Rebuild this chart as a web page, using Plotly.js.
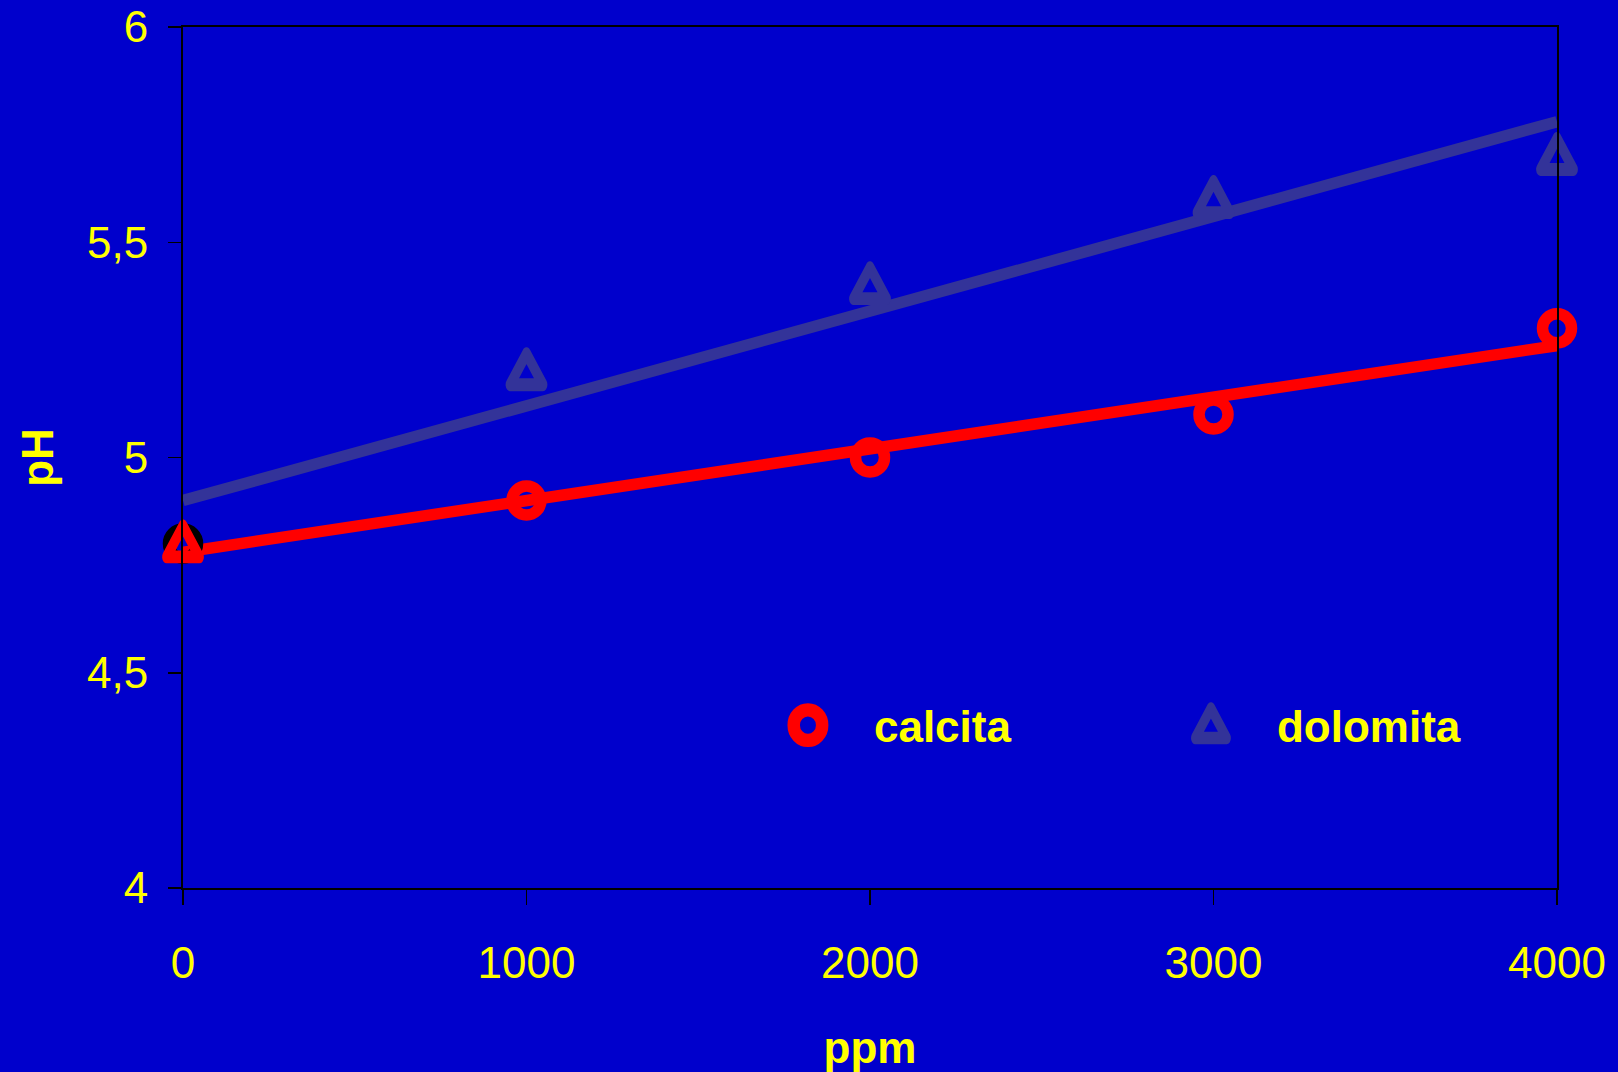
<!DOCTYPE html>
<html>
<head>
<meta charset="utf-8">
<script src="https://cdn.plot.ly/plotly-3.0.1.min.js"></script>
<style>
  html, body { margin: 0; padding: 0; background: #0000CC; }
  #chart { width: 1618px; height: 1072px; }
  .scatterlayer path.point, .legendpoints path { stroke-linejoin: round; }
</style>
</head>
<body>
<div id="chart"></div>
<script>
// ---- data ----
const ppm = [0, 1000, 2000, 3000, 4000];
const calcita = [4.8, 4.9, 5.0, 5.1, 5.3];
const dolomita = [4.8, 5.2, 5.4, 5.6, 5.7];
const seriesNames = ['calcita', 'dolomita'];
const xTickVals = [0, 1000, 2000, 3000, 4000];
const xTickText = ['0', '1000', '2000', '3000', '4000'];
const yTickVals = [4, 4.5, 5, 5.5, 6];
const yTickText = ['4', '4,5', '5', '5,5', '6'];
const xTitle = 'ppm';
const yTitle = 'pH';

// ---- styles ----
const BG = '#0000CC';
const YELLOW = '#FFFF00';
const RED = '#FF0000';
const NAVY = '#333399';
const FONT = 'Arial, "Liberation Sans", Helvetica, sans-serif';
const calcitaPointColors = ['#000000', RED, RED, RED, RED];
const dolomitaPointColors = [RED, NAVY, NAVY, NAVY, NAVY];

// least-squares trend line (Excel linear trendline)
function linearFit(xs, ys) {
  const n = xs.length;
  const mx = xs.reduce((a, b) => a + b, 0) / n;
  const my = ys.reduce((a, b) => a + b, 0) / n;
  let sxy = 0, sxx = 0;
  for (let i = 0; i < n; i++) { sxy += (xs[i] - mx) * (ys[i] - my); sxx += (xs[i] - mx) ** 2; }
  const slope = sxy / sxx;
  const icpt = my - slope * mx;
  const x0 = Math.min(...xs), x1 = Math.max(...xs);
  return { x: [x0, x1], y: [icpt + slope * x0, icpt + slope * x1] };
}
const fitC = linearFit(ppm, calcita);
const fitD = linearFit(ppm, dolomita);

const traces = [
  { type: 'scatter', mode: 'lines', x: fitD.x, y: fitD.y, showlegend: false, hoverinfo: 'skip',
    line: { color: NAVY, width: 11.5 }, cliponaxis: false },
  { type: 'scatter', mode: 'lines', x: fitC.x, y: fitC.y, showlegend: false, hoverinfo: 'skip',
    line: { color: RED, width: 11.5 }, cliponaxis: false },
  { type: 'scatter', mode: 'markers', name: seriesNames[0], x: ppm, y: calcita, showlegend: false,
    marker: { symbol: 'circle-open', size: 29, color: calcitaPointColors, line: { width: 11.5 } }, cliponaxis: false },
  { type: 'scatter', mode: 'markers', name: seriesNames[1], x: ppm, y: dolomita, showlegend: false,
    marker: { symbol: 'triangle-up-open', size: 34, color: dolomitaPointColors, line: { width: 10.5 } }, cliponaxis: false },
  // legend entries
  { type: 'scatter', mode: 'markers', name: seriesNames[0], x: [null], y: [null], showlegend: true,
    marker: { symbol: 'circle-open', size: 29, color: RED, line: { width: 11.5 } } },
  { type: 'scatter', mode: 'markers', name: seriesNames[1], x: [null], y: [null], showlegend: true,
    marker: { symbol: 'triangle-up-open', size: 34, color: NAVY, line: { width: 10.5 } } }
];

const tickFont = { family: FONT, size: 44, color: YELLOW };
const titleFont = { family: FONT, size: 44, color: YELLOW, weight: 'bold' };

const layout = {
  width: 1618, height: 1072,
  paper_bgcolor: BG, plot_bgcolor: BG,
  margin: { l: 183, r: 61, t: 27, b: 184, autoexpand: false },
  font: { family: FONT, color: YELLOW },
  showlegend: true,
  legend: {
    orientation: 'h', x: 0.4068, xanchor: 'left', y: 0.1887, yanchor: 'middle',
    bgcolor: 'rgba(0,0,0,0)', borderwidth: 0,
    itemwidth: 122, entrywidth: 266, itemsizing: 'trace',
    font: { family: FONT, size: 44, color: YELLOW, weight: 'bold' }
  },
  xaxis: {
    range: [0, 4000], tickvals: xTickVals, ticktext: xTickText,
    ticks: 'outside', ticklen: 15, tickwidth: 1.5, tickcolor: '#000',
    showline: true, linecolor: '#000', linewidth: 2, mirror: true,
    showgrid: false, zeroline: false, tickfont: tickFont, ticklabelstandoff: 20,
    title: { text: xTitle, font: titleFont, standoff: 57 }
  },
  yaxis: {
    range: [4, 6], tickvals: yTickVals, ticktext: yTickText,
    ticks: 'outside', ticklen: 13, tickwidth: 1.5, tickcolor: '#000',
    showline: true, linecolor: '#000', linewidth: 2, mirror: true,
    showgrid: false, zeroline: false, tickfont: tickFont, ticklabelstandoff: 11,
    title: { text: yTitle, font: titleFont, standoff: 20 }
  },
  xaxis2: {
    overlaying: 'x', anchor: 'y', side: 'bottom', range: [0, 4000], tickvals: xTickVals,
    ticks: 'inside', ticklen: 15, tickwidth: 1.5, tickcolor: '#000',
    showticklabels: false, showline: false, showgrid: false, zeroline: false
  },
  yaxis2: {
    overlaying: 'y', anchor: 'x', side: 'left', range: [4, 6], tickvals: yTickVals,
    ticks: 'inside', ticklen: 15, tickwidth: 1.5, tickcolor: '#000',
    showticklabels: false, showline: false, showgrid: false, zeroline: false
  }
};

Plotly.newPlot('chart', traces, layout, { displayModeBar: false, staticPlot: true }).then(gd => {
  // enlarge legend symbols (Plotly caps legend marker size)
  const legendScales = ['scale(1.78,1.91)', 'translate(0,3) scale(1.7,2.47)'];
  const legendStroke = ['7px', '5px'];
  gd.querySelectorAll('.legend .traces').forEach((t, i) => {
    t.querySelectorAll('.legendpoints path').forEach(p => {
      const tr = p.getAttribute('transform') || '';
      p.setAttribute('transform', tr + ' ' + legendScales[i]);
      p.style.strokeWidth = legendStroke[i];
    });
  });
  // Excel triangles are slightly taller than equilateral
  const traceGroups = gd.querySelectorAll('.scatterlayer .trace');
  if (traceGroups[3]) {
    traceGroups[3].querySelectorAll('path.point').forEach(p => {
      const tr = p.getAttribute('transform') || '';
      p.setAttribute('transform', tr + ' translate(0,3) scale(0.84,1.22)');
    });
  }
});
</script>
</body>
</html>
